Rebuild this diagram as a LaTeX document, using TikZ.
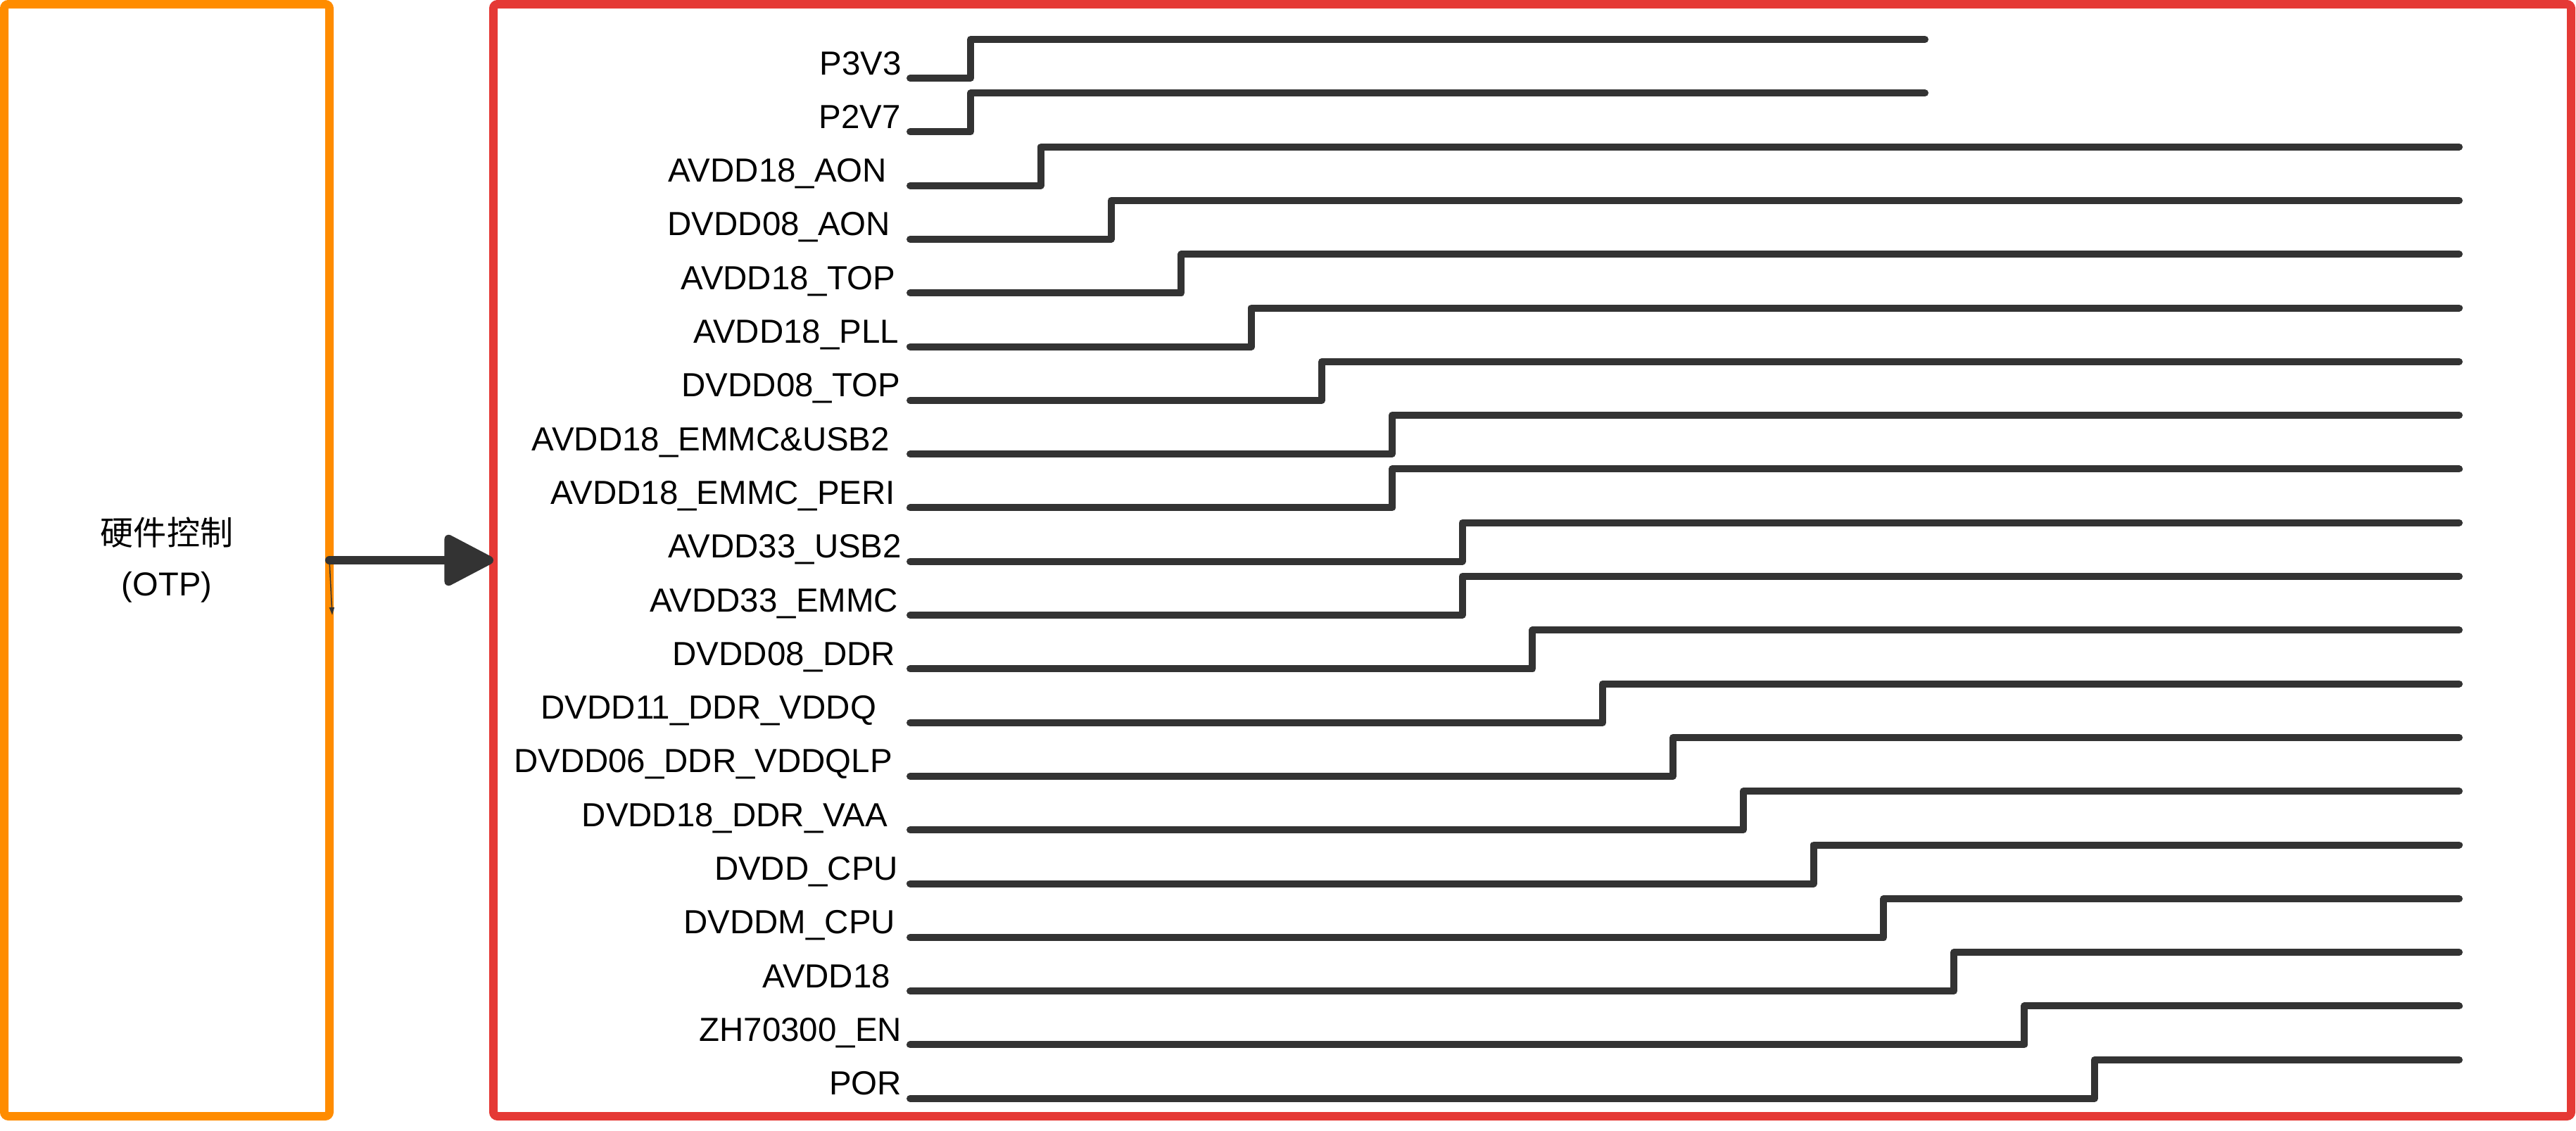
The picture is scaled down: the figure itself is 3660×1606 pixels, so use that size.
\documentclass[tikz,border=0pt]{standalone}
\usepackage{fontspec}
\setmainfont{Liberation Sans}
\newfontfamily\cjk{Noto Sans CJK SC}
\usetikzlibrary{arrows.meta}
\definecolor{boxorange}{HTML}{FF8C00}
\definecolor{boxred}{HTML}{E53935}
\definecolor{ink}{HTML}{333333}
\tikzset{
  frame/.style={draw, line width=1.2mm, rounded corners=0.6mm, inner sep=0pt, outer sep=0pt, rectangle},
  lbl/.style={inner sep=0pt, outer sep=0pt, font=\fontsize{13.5pt}{16pt}\selectfont, text=black},
  sig/.style={draw=ink, line width=1mm, line cap=round, line join=round},
  bigarrow/.style={draw=ink, line width=1.2mm, line cap=round, -{Triangle[length=7.7mm, width=7.7mm, round]}},
  thinarrow/.style={draw=ink, line width=0.15mm, -{Triangle[length=1.1mm, width=0.7mm]}}
}
\begin{document}
\begin{tikzpicture}[x=0.1mm, y=-0.1mm]
\useasboundingbox (0,0) rectangle (3660,1606);
% left box
\node[frame, draw=boxorange, minimum width=46.2mm, minimum height=158mm, align=center,
      font=\fontsize{13.4pt}{20.5pt}\selectfont] (otp) at (237,796) {{\cjk 硬件控制}\\(OTP)};
% right box
\node[frame, draw=boxred, minimum width=295.2mm, minimum height=158mm] (seq) at (2177,796) {};
% connectors
\draw[bigarrow] (otp.east) -- (seq.west);
\coordinate (tend) at (472,874);
\draw[thinarrow] (otp.east) -- (tend);
% waveforms
\foreach \i/\t/\xr/\k/\e in {
  0/{P3V3}/1281/0/2735,
  1/{P2V7}/1280/0/2735,
  2/{AVDD18\_AON}/1260/1/3494,
  3/{DVDD08\_AON}/1265/2/3494,
  4/{AVDD18\_TOP}/1272/3/3494,
  5/{AVDD18\_PLL}/1277/4/3494,
  6/{DVDD08\_TOP}/1279/5/3494,
  7/{AVDD18\_EMMC\&USB2}/1264/6/3494,
  8/{AVDD18\_EMMC\_PERI}/1272/6/3494,
  9/{AVDD33\_USB2}/1281/7/3494,
  10/{AVDD33\_EMMC}/1276/7/3494,
  11/{DVDD08\_DDR}/1272/8/3494,
  12/{DVDD11\_DDR\_VDDQ}/1245/9/3494,
  13/{DVDD06\_DDR\_VDDQLP}/1268/10/3494,
  14/{DVDD18\_DDR\_VAA}/1261/11/3494,
  15/{DVDD\_CPU}/1276/12/3494,
  16/{DVDDM\_CPU}/1272/13/3494,
  17/{AVDD18}/1265/14/3494,
  18/{ZH70300\_EN}/1281/15/3494,
  19/{POR}/1281/16/3494}{
  \pgfmathsetmacro\yh{56+76.3*\i}
  \pgfmathsetmacro\yl{\yh+55}
  \pgfmathsetmacro\xs{1379+99.8*\k}
  \node[lbl, anchor=base east] (L\i) at (\xr,\yl-5) {\t};
  \draw[sig] (1293,\yl) -- (\xs,\yl) -- (\xs,\yh) -- (\e,\yh);
}
\end{tikzpicture}
\end{document}
